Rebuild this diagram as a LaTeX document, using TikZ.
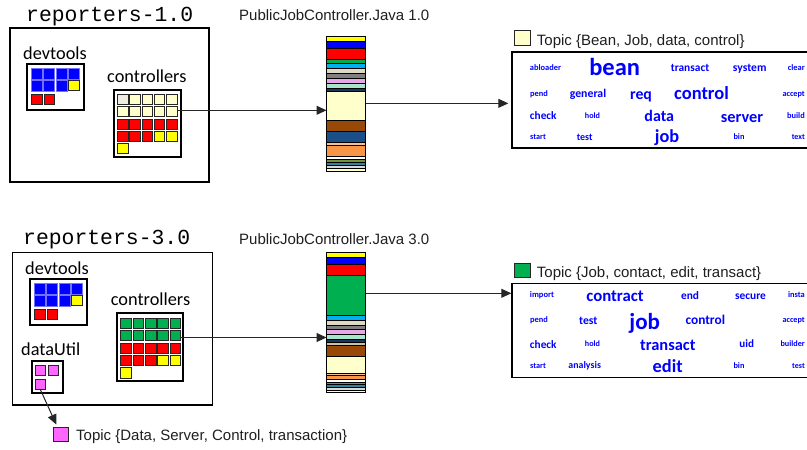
\documentclass[tikz,border=0pt]{standalone}
\usepackage{fontspec}
\setmainfont{Liberation Sans}
\newfontfamily\labelfont{Carlito}
\newfontfamily\codefont{Liberation Mono}
\usetikzlibrary{arrows.meta,fit}

\definecolor{cyel}{HTML}{FFFF00}
\definecolor{cblue}{HTML}{0000FF}
\definecolor{cred}{HTML}{FF0000}
\definecolor{cgreen}{HTML}{00B050}
\definecolor{ccyan}{HTML}{00B0F0}
\definecolor{cbeige}{HTML}{DDD9C3}
\definecolor{cbeigedk}{HTML}{C8C2A6}
\definecolor{cgrey}{HTML}{808080}
\definecolor{cpink}{HTML}{E6A8E6}
\definecolor{cmint}{HTML}{A6E6CA}
\definecolor{cnavy}{HTML}{17375E}
\definecolor{clyel}{HTML}{FFFFCC}
\definecolor{cbrown}{HTML}{984807}
\definecolor{cdkblue}{HTML}{1B4F8A}
\definecolor{cpeach}{HTML}{FAC090}
\definecolor{corange}{HTML}{F79646}
\definecolor{colive}{HTML}{76923C}
\definecolor{cteal}{HTML}{31859C}
\definecolor{cltgrey}{HTML}{D9D9D9}
\definecolor{cmag}{HTML}{FF66FF}
\definecolor{cpale}{HTML}{EEECE1}
\definecolor{wblue}{HTML}{0000FF}

\newcommand\wordsize[1]{\labelfont\bfseries\fontsize{#1}{#1}\selectfont}

\begin{document}
\begin{tikzpicture}[x=1pt,y=-1pt,
  sq/.style={draw=black!85, line width=0.7pt, minimum size=10.5pt, inner sep=0pt, outer sep=0pt},
  bsq/.style={fill=cblue, draw=cblue!55!white, line width=0.4pt, minimum size=11pt, inner sep=0pt},
  grp/.style={draw, line width=1.2pt, inner sep=0pt},
  pkg/.style={draw, line width=1.7pt, inner sep=0pt},
  band/.style={draw, line width=0.8pt, inner sep=0pt, outer sep=0pt, minimum width=39pt, anchor=north west},
  conn/.style={draw=black!85, line width=1pt},
  tip/.style={-{Triangle[length=10pt,width=9pt]}},
  mono/.style={font=\codefont\fontsize{21.4}{21.4}\selectfont, inner sep=0pt, anchor=base west},
  lbl/.style={font=\labelfont\fontsize{18.3}{18.3}\selectfont, inner sep=0pt, anchor=base west},
  captext/.style={font=\fontsize{15}{15}\selectfont, text=black!88, inner sep=0pt, anchor=base west},
  % a cloud word centred at its given point; the argument is its size
  word/.style={text=wblue, inner sep=0pt, anchor=base, font=\wordsize{#1}, yshift={-0.35*#1pt}},
  wordr/.style={word=#1, anchor=base east},
  leg/.style={draw=black!85, line width=1pt, inner sep=0pt}]

\useasboundingbox (0,0) rectangle (807,450);

% ---------------- version 1.0 ----------------
\node[mono] (titA) at (26,21.7) {reporters-1.0};
\node[grp, fit={(10,28) (209,182)}] (pkgA) {};
\node[lbl] (devA) at (23,59.3) {devtools};
\node[pkg, fit={(27,64) (84,110)}] (devboxA) {};
\foreach \c in {1,...,4} \node[bsq] (da1-\c) at ({36.8+12.3*(\c-1)},73.8) {};
\foreach \c in {1,...,3} \node[bsq] (da2-\c) at ({36.8+12.3*(\c-1)},85.5) {};
\node[sq, fill=cyel] (da2-4) at (73.7,85.5) {};
\node[sq, fill=cred] (da3-1) at (36.8,99.3) {};
\node[sq, fill=cred] (da3-2) at (49.1,99.3) {};

\node[lbl] (ctlA) at (107,82) {controllers};
\node[pkg, fit={(114,90) (181,157)}] (ctlboxA) {};
\foreach \y/\r/\cols in {99.5/1/{cpale,clyel,clyel,clyel,clyel},
                         111.3/2/{clyel,clyel,clyel,clyel,clyel},
                         124.5/3/{cred,cred,cred,cred,cred},
                         136.2/4/{cred,cred,cred,cyel,cyel},
                         148.2/5/{cyel}}
  \foreach \col [count=\c] in \cols
    \node[sq, fill=\col] (ca\r-\c) at ({122.6+12.3*(\c-1)},\y) {};

\node[captext] (fileA) at (239,20) {PublicJobController.Java 1.0};
\foreach \a/\b/\col [count=\i] in {36.5/41.3/cyel, 41.3/48.7/cblue, 48.7/59.3/cred,
    59.3/63.3/cgreen, 63.3/68.7/ccyan, 68.7/73.3/cbeige, 73.3/78.5/cgrey,
    78.5/83.3/cpink, 83.3/88.2/cmint, 88.2/91.3/cnavy, 91.3/120/clyel,
    120/131.3/cbrown, 131.3/142.4/cdkblue, 142.4/145.3/cpeach, 145.3/156/corange,
    156/159.3/white, 159.3/162/colive, 162/165/cteal, 165/168/cltgrey, 168/171.2/clyel}
{
  \pgfmathsetmacro\h{\b-\a}
  \node[band, fill=\col, minimum height=\h pt] (sa\i) at (326.5,\a) {};
}

\node[leg, fill=clyel, minimum width=16pt, minimum height=15pt] (legA) at (522,37.5) {};
\node[captext] (topA) at (536.7,45) {Topic \{Bean, Job, data, control\}};
\node[draw, line width=1.4pt, inner sep=0pt, fit={(512,52) (812,148)}] (cloudA) {};

\node[word=8.4]   (a1)  at (545.5,67.3) {abloader};
\node[word=24.5]  (a2)  at (614.7,66.5) {bean};
\node[word=11.4]  (a3)  at (690,67.3) {transact};
\node[word=11.6]  (a4)  at (749.7,67.3) {system};
\node[wordr=8.4]  (a5)  at (805,67.3) {clear};
\node[word=8.4]   (a6)  at (539,93.3) {pend};
\node[word=11.8]  (a7)  at (588,93.3) {general};
\node[word=15.8]  (a8)  at (641,93.5) {req};
\node[word=18.5]  (a9)  at (701.5,92.7) {control};
\node[wordr=8.2]  (a10) at (805,93.3) {accept};
\node[word=11.3]  (a11) at (543.3,115.7) {check};
\node[word=8.1]   (a12) at (592.5,115.5) {hold};
\node[word=16]    (a13) at (659.3,116) {data};
\node[word=16.3]  (a14) at (742,116.3) {server};
\node[wordr=8.4]  (a15) at (805,115.5) {build};
\node[word=8.2]   (a16) at (538,136.7) {start};
\node[word=10]    (a17) at (584.7,137) {test};
\node[word=18.3]  (a18) at (667,136) {job};
\node[word=8.3]   (a19) at (739,136.3) {bin};
\node[wordr=8]    (a20) at (805,136.3) {text};

\draw[conn, tip] ([yshift=1pt]ca2-5.east) -- ([yshift=1pt]ca2-5.east -| sa11.west);
\draw[conn, tip, shorten >=3pt] ([yshift=2.3pt]sa11.east) -- ([yshift=2.3pt]sa11.east -| cloudA.west);

% ---------------- version 3.0 ----------------
\node[mono] (titB) at (23,244.4) {reporters-3.0};
\node[grp, fit={(12.7,252.3) (212.3,405)}] (pkgB) {};
\node[lbl] (devB) at (25,274.3) {devtools};
\node[pkg, fit={(30,279.3) (87.3,325)}] (devboxB) {};
\foreach \c in {1,...,4} \node[bsq] (db1-\c) at ({39.8+12.3*(\c-1)},288.8) {};
\foreach \c in {1,...,3} \node[bsq] (db2-\c) at ({39.8+12.3*(\c-1)},300.5) {};
\node[sq, fill=cyel] (db2-4) at (76.7,300.5) {};
\node[sq, fill=cred] (db3-1) at (39.8,314.3) {};
\node[sq, fill=cred] (db3-2) at (52.1,314.3) {};

\node[lbl] (duB) at (21,355.3) {dataUtil};
\node[pkg, fit={(31.7,361) (62.7,393.3)}] (duboxB) {};
\node[sq, fill=cmag, minimum size=10pt] (du1) at (40.2,370.5) {};
\node[sq, fill=cmag, minimum size=10pt] (du2) at (53.3,370.5) {};
\node[sq, fill=cmag, minimum size=10pt] (du3) at (40.2,384.2) {};

\node[lbl] (ctlB) at (110.7,305.7) {controllers};
\node[pkg, fit={(117.3,313.3) (183.3,381)}] (ctlboxB) {};
\foreach \y/\r/\cols in {323.5/1/{cgreen,cgreen,cgreen,cgreen,cgreen},
                         335.5/2/{cgreen,cgreen,cgreen,cgreen,cgreen},
                         348.2/3/{cred,cred,cred,cred,cred},
                         360.2/4/{cred,cred,cred,cyel,cyel},
                         372.9/5/{cyel}}
  \foreach \col [count=\c] in \cols
    \node[sq, fill=\col] (cb\r-\c) at ({126+12.3*(\c-1)},\y) {};

\node[captext] (fileB) at (239,244) {PublicJobController.Java 3.0};
\foreach \a/\b/\col [count=\i] in {252.3/257.3/cyel, 257.3/264.3/cblue, 264.3/275.3/cred,
    275.3/315.3/cgreen, 315.3/320.3/ccyan, 320.3/325.2/cbeige, 325.2/329.5/cgrey,
    329.5/334.4/cpink, 334.4/339/cmint, 339/342/cnavy, 342/345.3/cbeigedk,
    345.3/356.5/cbrown, 356.5/373/clyel, 373/375.7/cpeach, 375.7/379/corange,
    379/382/white, 382/384.7/colive, 384.7/387.5/cteal, 387.5/390/cltgrey, 390/392.8/clyel}
{
  \pgfmathsetmacro\h{\b-\a}
  \node[band, fill=\col, minimum height=\h pt] (sb\i) at (326.5,\a) {};
}

\node[leg, fill=cgreen, minimum width=15.7pt, minimum height=14pt] (legB) at (522.2,270.3) {};
\node[captext] (topB) at (536.7,277.3) {Topic \{Job, contact, edit, transact\}};
\node[draw, line width=1.4pt, inner sep=0pt, fit={(512,283.3) (812,377.7)}] (cloudB) {};

\node[word=8.5]   (b1)  at (542,295) {import};
\node[word=16.8]  (b2)  at (615,295.3) {contract};
\node[word=11.4]  (b3)  at (690,295.5) {end};
\node[word=11.4]  (b4)  at (750.5,295.5) {secure};
\node[wordr=8.4]  (b5)  at (805,294.7) {insta};
\node[word=8.4]   (b6)  at (539,320) {pend};
\node[word=11.7]  (b7)  at (588.3,320.3) {test};
\node[word=23]    (b8)  at (644.7,321.5) {job};
\node[word=13.4]  (b9)  at (705.3,319.5) {control};
\node[wordr=8.2]  (b10) at (805,320) {accept};
\node[word=11.3]  (b11) at (543.3,344.3) {check};
\node[word=8.1]   (b12) at (592.5,344) {hold};
\node[word=16.4]  (b13) at (667.8,344.5) {transact};
\node[word=11.1]  (b14) at (746.7,344) {uid};
\node[wordr=8.2]  (b15) at (805,344) {builder};
\node[word=8.2]   (b16) at (538,366) {start};
\node[word=9.9]   (b17) at (584.7,365.5) {analysis};
\node[word=18.4]  (b18) at (667.7,366) {edit};
\node[word=8.3]   (b19) at (739,366) {bin};
\node[wordr=8]    (b20) at (805,366) {test};

\draw[conn, tip] ([yshift=-2pt]cb2-5.east) -- ([yshift=-2pt]cb2-5.east -| sb9.west);
\draw[conn, tip] ([yshift=2pt]sb4.east) -- ([yshift=2pt]sb4.east -| cloudB.west);

\node[leg, fill=cmag, minimum width=15pt, minimum height=14.4pt] (legC) at (60.8,434.5) {};
\node[captext] (topC) at (76,440.5) {Topic \{Data, Server, Control, transaction\}};
\draw[conn, tip, shorten >=2.5pt] (du3.south) -- ([xshift=-3.5pt]legC.north);

\end{tikzpicture}
\end{document}
